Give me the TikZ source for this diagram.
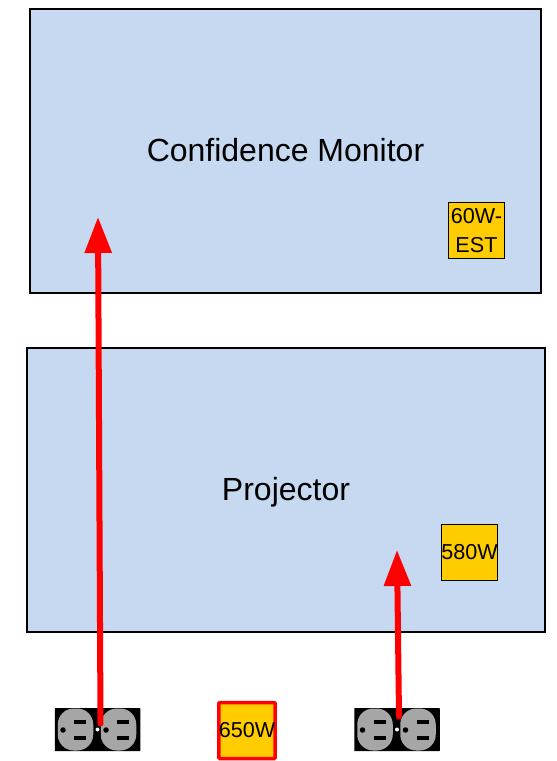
\documentclass[tikz,border=0pt]{standalone}
\usepackage{fontspec}
\setmainfont{Liberation Sans}
\usetikzlibrary{arrows.meta}
\definecolor{paleblue}{HTML}{C6D9F1}
\definecolor{wattgold}{HTML}{FFCC00}
\definecolor{facegray}{HTML}{A6A6A6}
\tikzset{
    gear/.style={rectangle,draw=black,fill=paleblue,line width=2pt,inner sep=0pt,minimum height=284pt,text height=24pt,text depth=3pt,font=\fontsize{32}{38}\selectfont},
    watt/.style={rectangle,draw=black,fill=wattgold,line width=0.7pt,inner sep=0pt,minimum size=56.5pt,align=center,font=\fontsize{21.6}{29}\selectfont},
    total/.style={watt,draw=red,line width=3.5pt,rounded corners=1pt,minimum size=56pt},
    feed/.style={draw=red,line width=6pt,line cap=round,-{Triangle[length=36pt,width=26pt,sharp]}},
    plate/.style={rectangle,fill=black,rounded corners=0.5pt,inner sep=0pt,minimum width=85.5pt,minimum height=43pt},
    face/.style={rectangle,fill=facegray,rounded corners=16pt,inner sep=0pt,minimum width=35.5pt,minimum height=42pt},
    slot/.style={rectangle,fill=black,inner sep=0pt,minimum width=12pt,minimum height=4pt},
    hole/.style={circle,fill=black,inner sep=0pt,minimum size=5.5pt},
    outlet/.pic={
        \node[plate] (-plate) at (0,0) {};
        \node[face] (-left) at (-22,0) {};
        \node[face] (-right) at (21,0) {};
        \foreach \dx in {-22,21} {
            \node[hole] at (\dx-12.5,0.5) {};
            \node[slot] at (\dx+4.5,-7.5) {};
            \node[slot] at (\dx+4.5,8.5) {};
        }
        \node[circle,fill=white,inner sep=0pt,minimum size=4pt] (-screw) at (0,0) {};
    }
}
\begin{document}
\begin{tikzpicture}[x=1pt,y=-1pt]
    \useasboundingbox (0,0) rectangle (557,761);
    \node[gear,minimum width=511pt] (monitor) at (285.5,151) {Confidence Monitor};
    \node[gear,minimum width=518pt] (projector) at (286,490) {Projector};
    \node[watt] (monitorwatt) at (476.5,230.5) {60W-\\EST};
    \node[watt] (projectorwatt) at (469.5,552.5) {580W};
    \node[total] (totalwatt) at (247,730.5) {650W};
    \pic (outleta) at (97.5,729.5) {outlet};
    \pic (outletb) at (397,729.5) {outlet};
    \coordinate (monitorfeed) at (98,217);
    \coordinate (projectorfeed) at (397,550);
    \draw [feed] ([xshift=3pt,yshift=6pt]outleta-plate.center) -- (monitorfeed);
    \draw [feed] ([xshift=2pt,yshift=13pt]outletb-plate.center) -- (projectorfeed);
\end{tikzpicture}
\end{document}
